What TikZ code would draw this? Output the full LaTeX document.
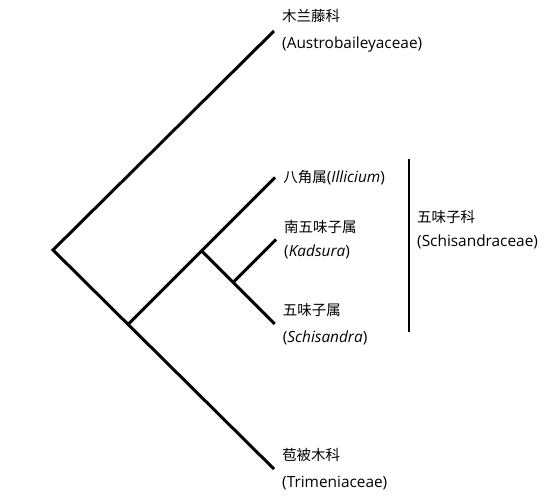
\documentclass[tikz,border=0pt]{standalone}
\usepackage{fontspec}
\setmainfont{Open Sans}
\newfontfamily\cjk[Scale=0.94]{Noto Sans CJK SC}
\usetikzlibrary{positioning,calc}
\tikzset{
  branch/.style = {line width=3pt},
  bar/.style    = {line width=2.6pt},
  taxon/.style  = {inner sep=0pt, anchor=west, align=left,
                   font=\fontsize{15.4}{26.5}\selectfont},
}
\newcommand{\DrawTaxon}[3]{%
  % places the tip of the branch
  \coordinate (#1) at #2;
  % displays the taxon name right of the tip
  \node[taxon, right=8pt of #1] (#1-name) {#3};
}

\begin{document}
\begin{tikzpicture}[x=1pt,y=-1pt]
    \useasboundingbox (0,0) rectangle (549,496);

    \coordinate (root) at (53,250);
    \DrawTaxon{aus}{(274,31)}
    {{\cjk 木兰藤科}\\(Austrobaileyaceae)}
    \DrawTaxon{tri}{(274,469)}
    {{\cjk 苞被木科}\\(Trimeniaceae)}
    % draws the two basal branches in one go (sharp corner at the root)
    \draw[branch] (aus) -- (root) -- (tri);

    \coordinate (j1) at ($(root)!0.34!(tri)$);
    \DrawTaxon{ill}{($(j1)+(147,-147)$)}
    {{\cjk 八角属}(\textit{Illicium})}
    \draw[branch] (j1) -- (ill);

    \coordinate (j2) at ($(j1)!0.5!(ill)$);
    \DrawTaxon{sch}{($(j2)+(73,73)$)}
    {{\cjk 五味子属}\\(\textit{Schisandra})}
    \draw[branch] (j2) -- (sch);

    \coordinate (j3) at ($(j2)!0.43!(sch)$);
    \DrawTaxon{kad}{($(j3)+(43,-43)$)}
    {{\cjk 南五味子属}\\[-2.5pt](\textit{Kadsura})}
    \draw[branch] (j3) -- (kad);

    % family bracket
    \coordinate (famtop) at (409,159);
    \coordinate (fambot) at (409,332);
    \draw[bar] (famtop) -- (fambot);
    \node[taxon] (fam-name) at (417,230)
    {{\cjk 五味子科}\\[-2.5pt](Schisandraceae)};
  \end{tikzpicture}
\end{document}
